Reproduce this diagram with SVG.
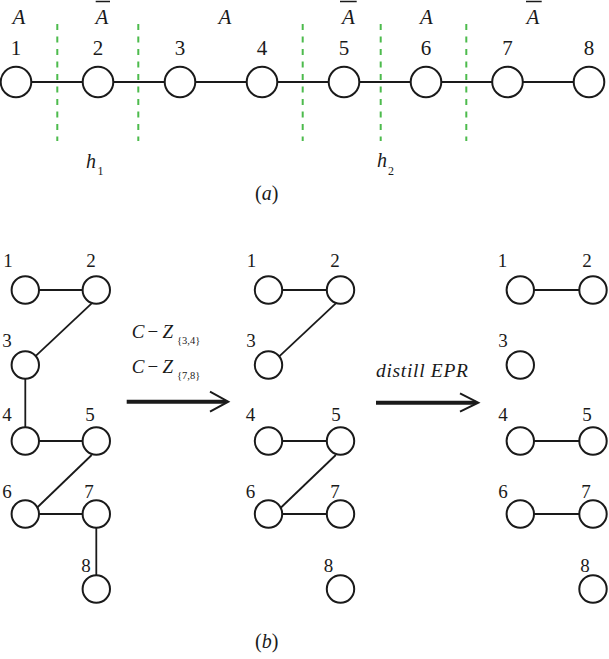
<svg xmlns="http://www.w3.org/2000/svg" width="609" height="659" viewBox="0 0 609 659">
<style>
.n{fill:#fff;stroke:#1a1a1a;stroke-width:2}
.e{stroke:#1a1a1a;stroke-width:1.8;fill:none}
.g{stroke:#4dbb4d;stroke-width:2;stroke-dasharray:6 6.5}
text{font-family:"Liberation Serif","Times New Roman","DejaVu Serif",serif;fill:#1a1a1a}
.num{font-size:21px;text-anchor:middle}
.bn{font-size:19px;text-anchor:middle}
.it{font-style:italic}
.bar{stroke:#1a1a1a;stroke-width:1.5}
</style>
<rect width="609" height="659" fill="#fff"/>

<!-- (a) -->
<g id="partitions">
<line class="g" x1="57.3" y1="24" x2="57.3" y2="141"/>
<line class="g" x1="138.3" y1="24" x2="138.3" y2="141"/>
<line class="g" x1="302.7" y1="24" x2="302.7" y2="141"/>
<line class="g" x1="380.7" y1="24" x2="380.7" y2="141"/>
<line class="g" x1="466.3" y1="24" x2="466.3" y2="141"/>
</g>
<g id="connectors-a">
<line class="e" x1="16" y1="82" x2="589" y2="82" stroke-width="2"/>
</g>
<g id="a1"><circle class="n" cx="16" cy="82" r="15.3"/><text class="num" x="16" y="55">1</text></g>
<g id="a2"><circle class="n" cx="98" cy="82" r="15.3"/><text class="num" x="98" y="55">2</text></g>
<g id="a3"><circle class="n" cx="180" cy="82" r="15.3"/><text class="num" x="180" y="55">3</text></g>
<g id="a4"><circle class="n" cx="262" cy="82" r="15.3"/><text class="num" x="262" y="55">4</text></g>
<g id="a5"><circle class="n" cx="344" cy="82" r="15.3"/><text class="num" x="344" y="55">5</text></g>
<g id="a6"><circle class="n" cx="426" cy="82" r="15.3"/><text class="num" x="426" y="55">6</text></g>
<g id="a7"><circle class="n" cx="507.5" cy="82" r="15.3"/><text class="num" x="507.5" y="55">7</text></g>
<g id="a8"><circle class="n" cx="589" cy="82" r="15.3"/><text class="num" x="589" y="55">8</text></g>

<g id="region-labels">
<text class="num it" x="19" y="24" font-size="20">A</text>
<text class="num it" x="102" y="24" font-size="20">A</text>
<line class="bar" x1="95.7" y1="1.5" x2="110" y2="1.5"/>
<text class="num it" x="225" y="24" font-size="20">A</text>
<text class="num it" x="348.5" y="24" font-size="20">A</text>
<line class="bar" x1="340" y1="1.5" x2="356.7" y2="1.5"/>
<text class="num it" x="426.5" y="24" font-size="20">A</text>
<text class="num it" x="533" y="24" font-size="20">A</text>
<line class="bar" x1="526" y1="1.5" x2="541.7" y2="1.5"/>
</g>
<g id="h-labels">
<text class="it" x="86" y="168" font-size="20">h</text>
<text x="97.5" y="175" font-size="12">1</text>
<text class="it" x="377" y="167" font-size="20">h</text>
<text x="388" y="175" font-size="12">2</text>
</g>
<text x="266.7" y="200" font-size="20" text-anchor="middle">(<tspan font-style="italic">a</tspan>)</text>

<!-- (b) connectors -->
<g id="connectors-b">
<line class="e" x1="25.3" y1="290" x2="96.3" y2="290"/>
<line class="e" x1="91.7" y1="303.3" x2="35" y2="356.7"/>
<line class="e" x1="25.3" y1="365" x2="25.3" y2="441"/>
<line class="e" x1="25.3" y1="441" x2="96.3" y2="441"/>
<line class="e" x1="91.7" y1="455" x2="36.7" y2="508"/>
<line class="e" x1="25.3" y1="514" x2="96.3" y2="514"/>
<line class="e" x1="96.3" y1="514" x2="96.3" y2="589"/>

<line class="e" x1="268.5" y1="290" x2="340.5" y2="290"/>
<line class="e" x1="335.8" y1="303.3" x2="279" y2="356.7"/>
<line class="e" x1="268.5" y1="441" x2="340.5" y2="441"/>
<line class="e" x1="335.8" y1="455" x2="280.5" y2="508"/>
<line class="e" x1="268.5" y1="514" x2="340.5" y2="514"/>

<line class="e" x1="520.3" y1="290" x2="593" y2="290"/>
<line class="e" x1="520.3" y1="441" x2="593" y2="441"/>
<line class="e" x1="520.3" y1="514" x2="593" y2="514"/>
</g>

<!-- (b) left -->
<g id="L1"><circle class="n" cx="25.3" cy="290" r="13.7"/><text class="bn" x="8" y="267">1</text></g>
<g id="L2"><circle class="n" cx="96.3" cy="290" r="13.7"/><text class="bn" x="91" y="267">2</text></g>
<g id="L3"><circle class="n" cx="25.3" cy="365" r="13.7"/><text class="bn" x="7" y="347">3</text></g>
<g id="L4"><circle class="n" cx="25.3" cy="441" r="13.7"/><text class="bn" x="7" y="421">4</text></g>
<g id="L5"><circle class="n" cx="96.3" cy="441" r="13.7"/><text class="bn" x="90" y="421">5</text></g>
<g id="L6"><circle class="n" cx="25.3" cy="514" r="13.7"/><text class="bn" x="7" y="498">6</text></g>
<g id="L7"><circle class="n" cx="96.3" cy="514" r="13.7"/><text class="bn" x="89" y="498">7</text></g>
<g id="L8"><circle class="n" cx="96.3" cy="589" r="13.7"/><text class="bn" x="86" y="572">8</text></g>

<!-- (b) middle -->
<g id="M1"><circle class="n" cx="268.5" cy="290" r="13.7"/><text class="bn" x="251.5" y="267">1</text></g>
<g id="M2"><circle class="n" cx="340.5" cy="290" r="13.7"/><text class="bn" x="335" y="267">2</text></g>
<g id="M3"><circle class="n" cx="268.5" cy="365" r="13.7"/><text class="bn" x="251" y="347">3</text></g>
<g id="M4"><circle class="n" cx="268.5" cy="441" r="13.7"/><text class="bn" x="250.5" y="421">4</text></g>
<g id="M5"><circle class="n" cx="340.5" cy="441" r="13.7"/><text class="bn" x="336" y="421">5</text></g>
<g id="M6"><circle class="n" cx="268.5" cy="514" r="13.7"/><text class="bn" x="250.5" y="498">6</text></g>
<g id="M7"><circle class="n" cx="340.5" cy="514" r="13.7"/><text class="bn" x="335" y="498">7</text></g>
<g id="M8"><circle class="n" cx="340.5" cy="589" r="13.7"/><text class="bn" x="328.5" y="572">8</text></g>

<!-- (b) right -->
<g id="R1"><circle class="n" cx="520.3" cy="290" r="13.7"/><text class="bn" x="502.5" y="267">1</text></g>
<g id="R2"><circle class="n" cx="593" cy="290" r="13.7"/><text class="bn" x="587" y="267">2</text></g>
<g id="R3"><circle class="n" cx="520.3" cy="365" r="13.7"/><text class="bn" x="503" y="347">3</text></g>
<g id="R4"><circle class="n" cx="520.3" cy="441" r="13.7"/><text class="bn" x="503" y="421">4</text></g>
<g id="R5"><circle class="n" cx="593" cy="441" r="13.7"/><text class="bn" x="587" y="421">5</text></g>
<g id="R6"><circle class="n" cx="520.3" cy="514" r="13.7"/><text class="bn" x="503" y="498">6</text></g>
<g id="R7"><circle class="n" cx="593" cy="514" r="13.7"/><text class="bn" x="586" y="498">7</text></g>
<g id="R8"><circle class="n" cx="593" cy="589" r="13.7"/><text class="bn" x="585" y="572">8</text></g>

<!-- arrows -->
<g id="arrows">
<line x1="126.7" y1="401.7" x2="226" y2="401.7" stroke="#1a1a1a" stroke-width="4"/>
<polyline points="210,391.7 228.3,401.7 210,411.7" fill="none" stroke="#1a1a1a" stroke-width="2"/>
<line x1="376" y1="402.7" x2="476" y2="402.7" stroke="#1a1a1a" stroke-width="4"/>
<polyline points="460,393.3 478.3,402.7 460,411.7" fill="none" stroke="#1a1a1a" stroke-width="2"/>
</g>
<g id="arrow-labels">
<text class="it" x="131.7" y="338.3" font-size="19">C</text>
<text x="147.5" y="338.3" font-size="19">−</text>
<text class="it" x="162.5" y="338.3" font-size="19">Z</text>
<text x="177" y="343.5" font-size="10.5">{3,4}</text>
<text class="it" x="131.7" y="373.3" font-size="19">C</text>
<text x="147.5" y="373.3" font-size="19">−</text>
<text class="it" x="162.5" y="373.3" font-size="19">Z</text>
<text x="177" y="378.5" font-size="10.5">{7,8}</text>
<text class="it" x="376" y="376.7" font-size="19.5" textLength="92" lengthAdjust="spacing">distill EPR</text>
</g>
<text x="266.7" y="648" font-size="20" text-anchor="middle">(<tspan font-style="italic">b</tspan>)</text>
</svg>
